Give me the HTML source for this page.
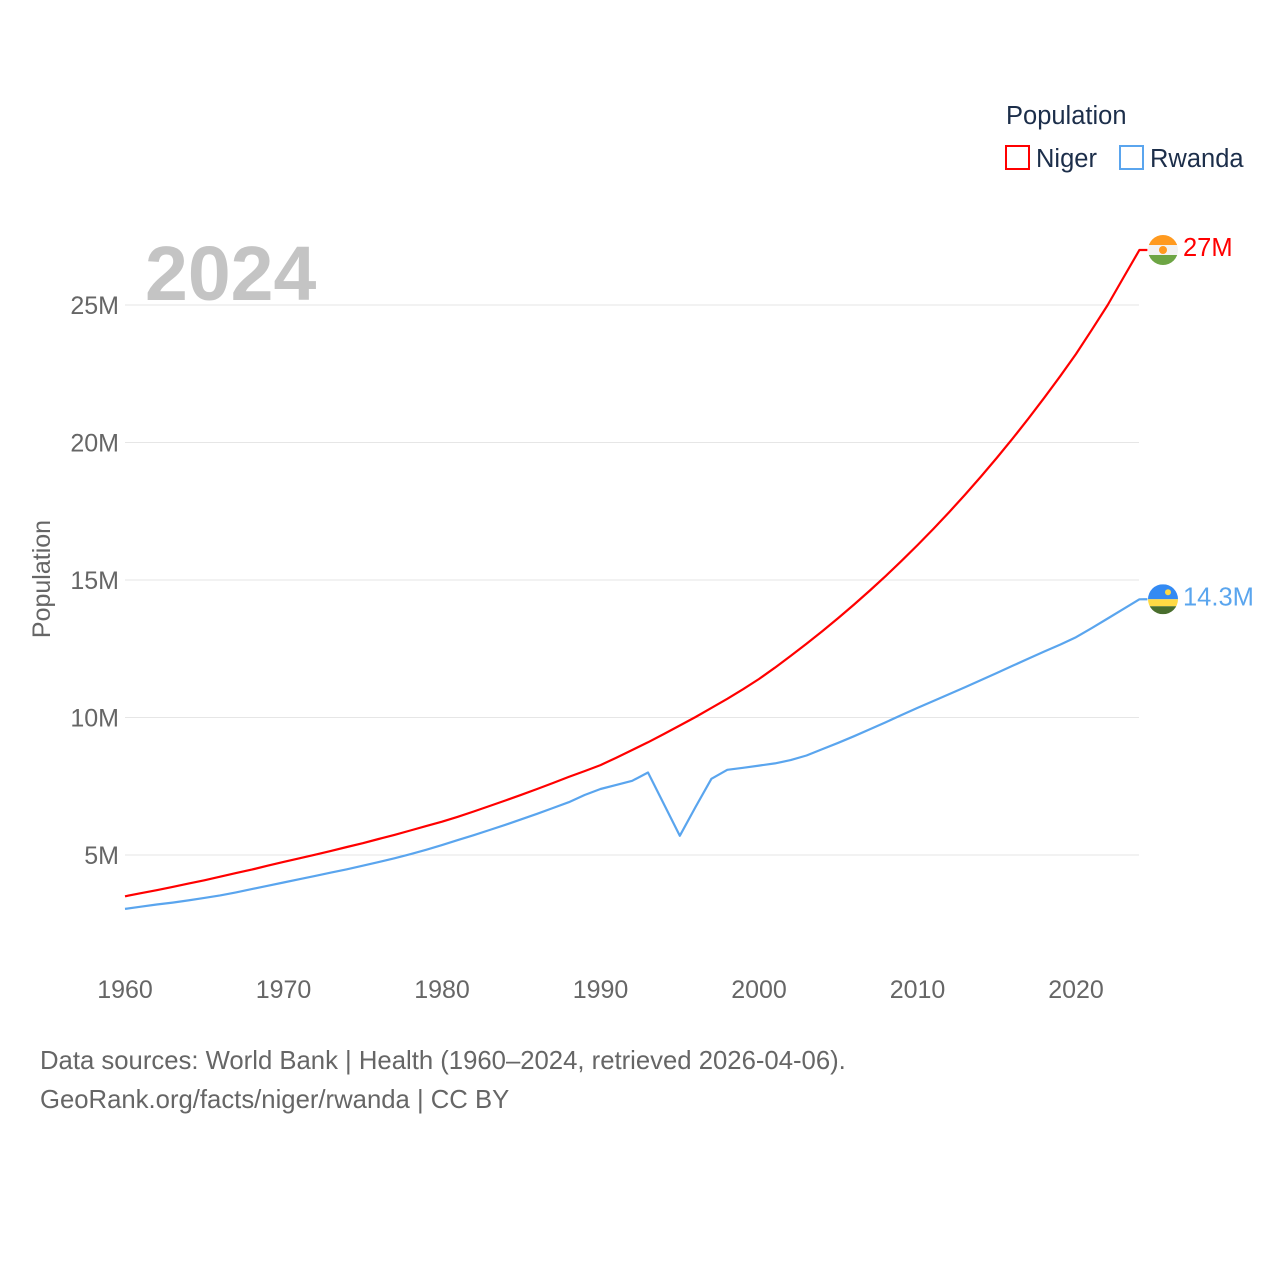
<!DOCTYPE html>
<html><head><meta charset="utf-8"><style>
body{margin:0;background:#fff;}
svg text{font-family:"Liberation Sans",sans-serif;}
</style></head><body>
<svg id="chart" width="1280" height="1280" viewBox="0 0 1280 1280" xmlns="http://www.w3.org/2000/svg">
<rect width="1280" height="1280" fill="#fff"/>
<g id="grid"></g>
<text x="145" y="300" font-size="77" font-weight="bold" fill="#c4c4c4">2024</text>
<g id="yticks"></g>
<g id="xticks"></g>
<text transform="translate(50,579) rotate(-90)" text-anchor="middle" font-size="25" fill="#666">Population</text>
<g id="series"></g>
<g>
<text x="1006" y="124" font-size="25.5" fill="#1c2e4a">Population</text>
<g><rect x="1006" y="146" width="23" height="23" fill="none" stroke="#ff0000" stroke-width="2"/><text x="1036" y="167" font-size="25.5" fill="#1c2e4a">Niger</text></g>
<g><rect x="1120" y="146" width="23" height="23" fill="none" stroke="#5aa5ee" stroke-width="2"/><text x="1150" y="167" font-size="25.5" fill="#1c2e4a">Rwanda</text></g>
</g>
<text x="40" y="1069" font-size="25.7" fill="#666">Data sources: World Bank | Health (1960–2024, retrieved 2026-04-06).</text>
<text x="40" y="1108" font-size="25.7" fill="#666">GeoRank.org/facts/niger/rwanda | CC BY</text>
</svg>
<script>
const years = Array.from({length:65},(_,i)=>1960+i);
const niger = [3.50,3.61,3.72,3.84,3.96,4.08,4.21,4.34,4.47,4.61,4.75,
4.88,5.01,5.15,5.29,5.43,5.58,5.73,5.89,6.05,6.21,
6.39,6.58,6.78,6.98,7.19,7.40,7.62,7.84,8.05,8.27,
8.54,8.82,9.10,9.40,9.71,10.02,10.35,10.68,11.03,11.40,
11.81,12.24,12.68,13.14,13.62,14.11,14.62,15.15,15.70,16.27,
16.86,17.47,18.10,18.76,19.44,20.14,20.87,21.63,22.41,23.22,
24.1,25.0,26.0,27.0];
const rwanda = [3.04,3.12,3.20,3.27,3.35,3.44,3.53,3.64,3.76,3.88,4.00,
4.12,4.24,4.36,4.48,4.61,4.74,4.88,5.03,5.19,5.36,
5.54,5.72,5.91,6.10,6.30,6.50,6.71,6.92,7.18,7.40,
7.55,7.70,8.00,6.85,5.70,6.75,7.77,8.10,8.17,8.25,
8.33,8.45,8.62,8.85,9.08,9.32,9.57,9.83,10.09,10.35,
10.6,10.85,11.1,11.36,11.62,11.88,12.14,12.4,12.65,12.92,
13.25,13.6,13.95,14.3];
const yTicks = [5,10,15,20,25];
const yTickLabels = ["5M","10M","15M","20M","25M"];
const xTicks = [1960,1970,1980,1990,2000,2010,2020];
const endLabels = ["27M","14.3M"];
const NS="http://www.w3.org/2000/svg";
const X = y => 125 + (y-1960)*15.85;
const Y = v => 992.5 - v*27.5;
function mk(tag, attrs, parent){const e=document.createElementNS(NS,tag);for(const k in attrs)e.setAttribute(k,attrs[k]);parent.appendChild(e);return e;}
const grid=document.getElementById('grid'), yt=document.getElementById('yticks'), xt=document.getElementById('xticks'), ser=document.getElementById('series');
yTicks.forEach((t,i)=>{
  const l=mk('line',{x1:125,x2:1139,y1:Y(t),y2:Y(t),stroke:'#e6e6e6','stroke-width':1},grid);
  
  
  const tx=mk('text',{x:119,y:Y(t)+9,'text-anchor':'end','font-size':25,fill:'#666'},yt);
  tx.textContent=yTickLabels[i];
  
  
});
xTicks.forEach(t=>{
  const tx=mk('text',{x:X(t),y:998,'text-anchor':'middle','font-size':25,fill:'#666'},xt);
  tx.textContent=t;
  
  
});
function drawSeries(vals,color,name,label,flag){
  const pts=vals.map((v,i)=>X(years[i]).toFixed(1)+','+Y(v).toFixed(1));
  const last=vals[vals.length-1], lx=X(years[years.length-1]), ly=Y(last);
  const p=mk('polyline',{points:pts.join(' ')+' '+(lx+8)+','+ly,fill:'none',stroke:color,'stroke-width':2.2,'stroke-linejoin':'round'},ser);
  
  
  const g=mk('g',{},ser);
  
  
  const cx=1163, r=15;
  const cp=mk('clipPath',{id:'cp'+name},g);
  mk('circle',{cx:cx,cy:ly,r:r},cp);
  const cg=mk('g',{'clip-path':'url(#cp'+name+')'},g);
  if(flag==='ne'){
    mk('rect',{x:cx-r,y:ly-r,width:30,height:10,fill:'#ff9a1f'},cg);
    mk('rect',{x:cx-r,y:ly-5,width:30,height:10,fill:'#f2f2f2'},cg);
    mk('rect',{x:cx-r,y:ly+5,width:30,height:10,fill:'#6da544'},cg);
    mk('circle',{cx:cx,cy:ly,r:4,fill:'#ff9a1f'},cg);
  } else {
    mk('rect',{x:cx-r,y:ly-r,width:30,height:15,fill:'#338af3'},cg);
    mk('rect',{x:cx-r,y:ly,width:30,height:7,fill:'#ffda44'},cg);
    mk('rect',{x:cx-r,y:ly+7,width:30,height:8,fill:'#496e2d'},cg);
    mk('circle',{cx:cx+5,cy:ly-7,r:3,fill:'#ffda44'},cg);
  }
  const t=mk('text',{x:1183,y:ly+6,'font-size':25.5,fill:color},ser);
  t.textContent=label;
  
  
}
drawSeries(niger,'#ff0000','niger',endLabels[0],'ne');
drawSeries(rwanda,'#5aa5ee','rwanda',endLabels[1],'rw');
</script>
</body></html>
